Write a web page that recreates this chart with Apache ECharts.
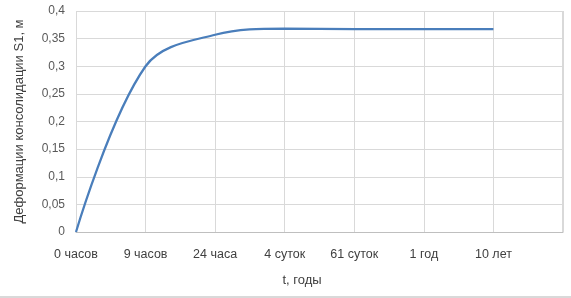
<!DOCTYPE html>
<html>
<head>
<meta charset="utf-8">
<script src="https://cdn.jsdelivr.net/npm/echarts@6/dist/echarts.min.js"></script>
<style>
html,body{margin:0;padding:0;background:#fff;}
#c{width:571px;height:298px;}
</style>
</head>
<body>
<div id="c"></div>
<script>
const categories = ["0 часов", "9 часов", "24 часа", "4 суток", "61 суток", "1 год", "10 лет", ""];
const deformation = [0, 0.300, 0.357, 0.368, 0.367, 0.367, 0.367, null];
const yTicks = { min: 0, max: 0.4, interval: 0.05 };
const yAxisTitle = "Деформации консолидации S1, м";
const xAxisTitle = "t, годы";

const chart = echarts.init(document.getElementById('c'), null, {renderer: 'canvas'});
const font = "'Liberation Sans', Arial, sans-serif";
chart.setOption({
  animation: false,
  backgroundColor: '#fff',
  grid: { left: 76, right: 8, top: 11, bottom: 66 },
  title: {
    text: xAxisTitle,
    left: 297, top: 269,
    textAlign: 'center',
    textStyle: { fontFamily: font, fontSize: 13, fontWeight: 'normal', color: '#404040' }
  },
  xAxis: {
    type: 'category',
    data: categories,
    boundaryGap: false,
    axisLine: { show: true, lineStyle: { color: '#bfbfbf', width: 1 } },
    axisTick: { show: false },
    axisLabel: { margin: 16, fontFamily: font, fontSize: 12.5, color: '#404040', interval: 0 },
    splitLine: { show: true, lineStyle: { color: '#d9d9d9', width: 1 } }
  },
  yAxis: {
    type: 'value',
    min: yTicks.min, max: yTicks.max, interval: yTicks.interval,
    name: yAxisTitle,
    nameLocation: 'middle',
    nameGap: 50,
    nameTextStyle: { fontFamily: font, fontSize: 13, color: '#404040', padding: [0, 0, 0, 0] },
    axisLine: { show: false },
    axisTick: { show: false },
    axisLabel: {
      margin: 11, fontFamily: font, fontSize: 12, color: '#595959',
      formatter: v => String(+v.toFixed(2)).replace('.', ',')
    },
    splitLine: { show: true, lineStyle: { color: '#d9d9d9', width: 1 } }
  },
  graphic: [{
    type: 'rect', shape: { x: 562, y: 11, width: 1, height: 221 }, style: { fill: '#d9d9d9' }, silent: true
  }, {
    type: 'rect', shape: { x: 0, y: 296, width: 571, height: 2 }, style: { fill: '#d9d9d9' }, silent: true
  }],
  series: [{
    type: 'line',
    data: deformation,
    smooth: 0.36,
    showSymbol: false,
    lineStyle: { color: '#4a7ebb', width: 2.25 },
    itemStyle: { color: '#4a7ebb' }
  }]
});
</script>
</body>
</html>
